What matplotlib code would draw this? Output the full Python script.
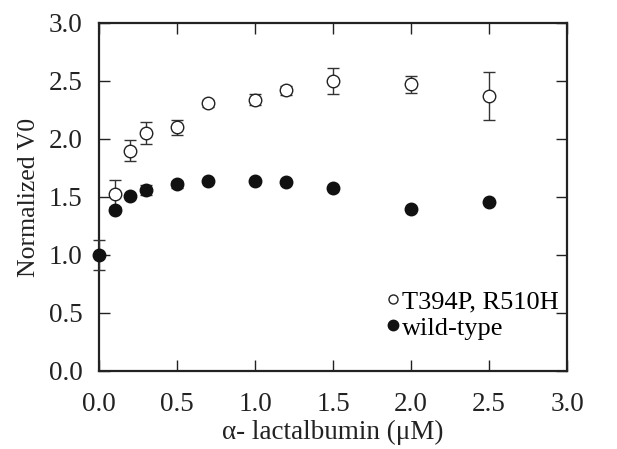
import matplotlib

matplotlib.use("Agg")
import matplotlib.pyplot as plt
from matplotlib.lines import Line2D

plt.rcParams["font.family"] = ["Liberation Serif", "DejaVu Serif"]

# alpha-lactalbumin concentration (uM)
mutant_x = [0.1, 0.2, 0.3, 0.5, 0.7, 1.0, 1.2, 1.5, 2.0, 2.5]
mutant_y = [1.53, 1.90, 2.05, 2.10, 2.31, 2.34, 2.42, 2.50, 2.47, 2.37]
mutant_err = [0.12, 0.09, 0.095, 0.065, 0.03, 0.05, 0.04, 0.11, 0.07, 0.21]

wild_x = [0.0, 0.1, 0.2, 0.3, 0.5, 0.7, 1.0, 1.2, 1.5, 2.0, 2.5]
wild_y = [1.00, 1.39, 1.51, 1.56, 1.61, 1.64, 1.64, 1.63, 1.58, 1.40, 1.455]
wild_err = [0.13, 0.0, 0.0, 0.04, 0.03, 0.0, 0.0, 0.0, 0.0, 0.0, 0.0]

ticks = [0.0, 0.5, 1.0, 1.5, 2.0, 2.5, 3.0]

fig = plt.figure(figsize=(6.17, 4.49), dpi=100)
ax = fig.add_axes([99 / 617, (449 - 371) / 449, (567 - 99) / 617, (371 - 23) / 449])

ax.errorbar(mutant_x, mutant_y, yerr=mutant_err, fmt="o", ms=9, mfc="white",
            mec="#222222", mew=1.0, ecolor="#333333", elinewidth=1.0,
            capsize=4.5, capthick=1.0, zorder=3)
ax.errorbar(wild_x, wild_y, yerr=wild_err, fmt="o", ms=9, mfc="#111111",
            mec="#111111", ecolor="#333333", elinewidth=1.0,
            capsize=4.5, capthick=1.0, zorder=4, clip_on=False)

ax.set_xlim(0, 3.0)
ax.set_ylim(0, 3.0)
ax.set_xticks(ticks)
ax.set_yticks(ticks)
ax.set_xticklabels([f"{t:.1f}" for t in ticks])
ax.set_yticklabels([f"{t:.1f}" for t in ticks])
ax.tick_params(direction="in", length=8, width=1.0, top=True, right=True,
               labelsize=19.5, colors="#222222")
ax.tick_params(axis="x", pad=15)
ax.tick_params(axis="y", pad=12)
for spine in ax.spines.values():
    spine.set_linewidth(1.6)
    spine.set_color("#222222")

ax.set_xlabel("α- lactalbumin (μM)", fontsize=19.5, color="#222222", labelpad=2)
ax.set_ylabel("Normalized V0", fontsize=18.5, color="#222222", labelpad=6)

handles = [
    Line2D([], [], ls="none", marker="o", ms=6.5, mfc="white", mec="#222222", mew=1.0),
    Line2D([], [], ls="none", marker="o", ms=7.5, mfc="#111111", mec="#111111"),
]
ax.legend(handles, ["T394P, R510H", "wild-type"], loc="lower right",
          bbox_to_anchor=(1.005, 0.06), frameon=False, fontsize=19,
          handlelength=0.4, handletextpad=0.15, labelspacing=0.1,
          borderaxespad=0.0)

fig.savefig("out.png", dpi=100)
